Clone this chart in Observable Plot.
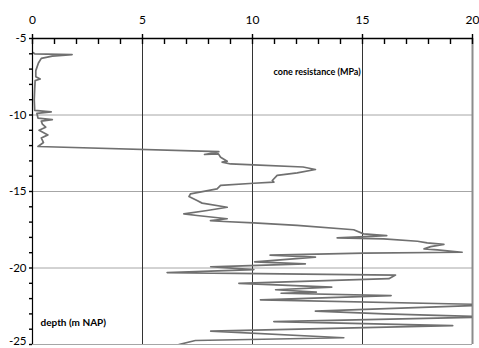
<!DOCTYPE html>
<html>
<head>
<meta charset="utf-8">
<script src="https://cdn.jsdelivr.net/npm/d3@7"></script>
<script src="https://cdn.jsdelivr.net/npm/@observablehq/plot@0.6"></script>
<style>
  html, body { margin: 0; padding: 0; background: #fff; }
  svg { display: block; }
</style>
</head>
<body>
<div id="chart"></div>
<script>
// cone resistance profile
const depth = [-5.9,-6.0,-6.05,-6.15,-6.3,-6.6,-7.1,-7.5,-7.65,-7.75,-8.3,-9.0,-9.7,-9.8,-9.9,-10.2,-10.3,-10.4,-10.6,-10.8,-11.0,-11.3,-11.5,-11.8,-12.06,
  -12.4,-12.58,-12.54,-12.76,-13.02,-13.08,-13.2,-13.26,-13.4,-13.56,-13.78,-13.95,-14.28,-14.39,-14.46,-14.6,-14.83,-15.15,-15.33,-15.59,-15.76,-16.03,-16.24,-16.46,-16.57,-16.78,-16.9,-16.96,-17.05,-17.22,
  -17.5,-17.77,-17.88,-18.03,-18.1,-18.25,-18.36,-18.46,-18.6,-18.75,-18.81,-18.97,-19.03,-19.16,-19.29,-19.6,-19.73,-19.92,-20.1,-20.3,-20.46,-20.7,-21.0,-21.25,-21.42,-21.58,-21.65,-21.8,-22.08,-22.4,-22.82,-23.0,-23.2,-23.5,-23.77,-24.13,-24.56,-24.74,-25.0];
const qc = [0.0,0.1,1.8,0.9,0.4,0.27,0.15,0.15,0.35,0.12,0.1,0.08,0.1,0.85,0.2,0.25,0.9,0.4,0.45,0.6,0.3,0.7,0.4,0.5,0.25,
  8.47,7.82,8.45,8.55,8.85,8.62,9.0,10.05,12.3,12.86,12.03,11.12,10.9,10.97,10.05,8.55,8.39,7.18,7.11,7.48,7.71,8.85,7.94,6.88,7.48,8.85,8.09,8.7,10.05,12.03,
  14.6,15.05,16.1,13.85,15.96,17.5,17.94,18.7,18.1,17.8,18.4,19.53,15.06,10.8,12.86,10.1,12.4,8.1,10.06,6.12,16.5,16.2,9.38,13.6,11.05,12.9,11.3,16.3,10.36,21.0,12.86,16.0,21.0,10.97,19.1,8.1,14.15,7.4,6.65];

const xTicks = [0, 5, 10, 15, 20];
const yTicks = [-5, -10, -15, -20, -25];
const xLabel = "cone resistance (MPa)";
const yLabel = "depth (m NAP)";

const data = depth.map((d, i) => ({depth: d, qc: qc[i]}));

const chart = Plot.plot({
  width: 479,
  height: 348,
  marginTop: 38,
  marginLeft: 32,
  marginRight: 7,
  marginBottom: 4,
  style: {fontFamily: "Lato, 'Open Sans', sans-serif", background: "#fff", overflow: "visible"},
  x: {domain: [0, 20]},
  y: {domain: [-25, -5]},
  marks: [
    Plot.ruleY([-10, -15, -20, -25], {stroke: "#a6a6a6", strokeWidth: 1}),
    Plot.ruleX([5, 10, 15], {stroke: "#333", strokeWidth: 1}),
    Plot.ruleX([20], {stroke: "#8c8c8c", strokeWidth: 2}),
    Plot.line(data, {x: "qc", y: "depth", stroke: "#707070", strokeWidth: 1.7, clip: true}),
    Plot.ruleY([-5], {stroke: "#000", strokeWidth: 1.5}),
    Plot.ruleX([0], {stroke: "#000", strokeWidth: 1.2}),
    Plot.axisX({anchor: "top", ticks: d3.range(0, 21, 1), tickSize: -5, tickFormat: () => "", label: null, stroke: "#000", strokeWidth: 1.4}),
    Plot.axisX({anchor: "top", ticks: xTicks, tickSize: 5, tickPadding: 10, tickFormat: d => String(d), label: null, fontSize: 12, stroke: "#000", strokeWidth: 1.4}),
    Plot.axisY({anchor: "left", ticks: d3.range(-25, -4, 1), tickSize: 3, tickPadding: 3, tickFormat: d => (yTicks.includes(d) && d !== -25) ? String(d) : "", label: null, fontSize: 11.5, stroke: "#000", strokeWidth: 1.4}),
    Plot.text([-25], {x: 0, y: d => d, text: d => String(d), textAnchor: "end", dx: -6, dy: -3, fontSize: 11.5, fill: "#000"}),
    Plot.text([xLabel], {frameAnchor: "top-left", text: d => d, dx: 241, dy: 30, fontWeight: "bold", fontSize: 9, fill: "#000"}),
    Plot.text([yLabel], {frameAnchor: "bottom-left", text: d => d, dx: 8, dy: -19, fontWeight: "bold", fontSize: 10, fill: "#000"})
  ]
});
document.getElementById("chart").appendChild(chart);
</script>
</body>
</html>
